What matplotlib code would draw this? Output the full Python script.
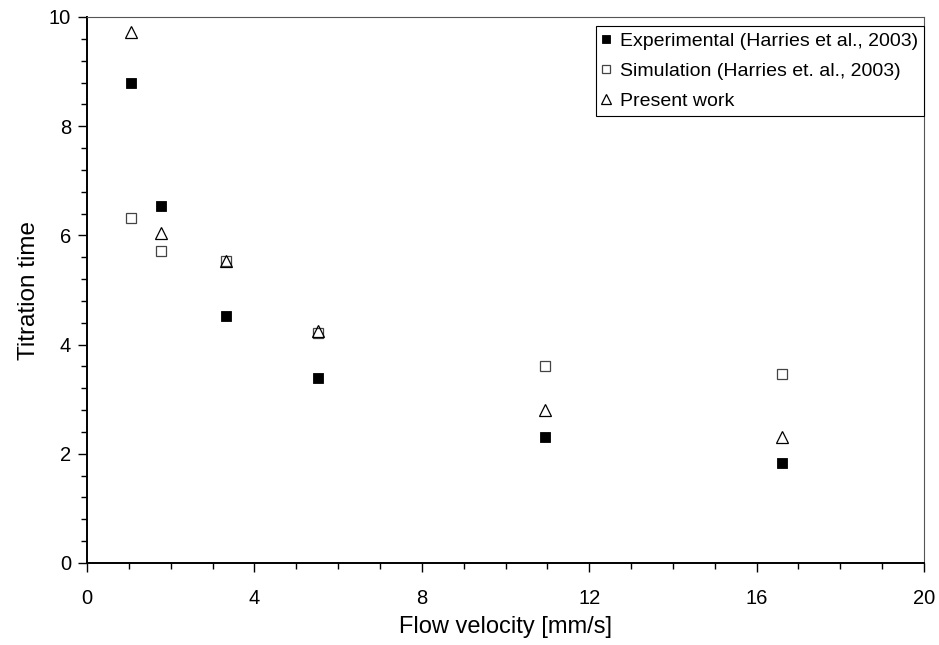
import numpy as np
import matplotlib.pyplot as plt
from matplotlib.ticker import MultipleLocator

plt.rcParams['font.family'] = ['Liberation Sans', 'DejaVu Sans']

# flow velocity [mm/s]
velocity = [1.05, 1.76, 3.33, 5.53, 10.95, 16.6]

# titration times
experimental = [8.79, 6.54, 4.53, 3.39, 2.30, 1.83]
simulation = [6.32, 5.72, 5.53, 4.22, 3.61, 3.46]
present_work = [9.73, 6.04, 5.53, 4.24, 2.80, 2.30]

labels = ["Experimental (Harries et al., 2003)",
          "Simulation (Harries et. al., 2003)",
          "Present work"]

fig = plt.figure(figsize=(9.39, 6.45), dpi=100)
ax = fig.add_axes([87 / 939, 1 - 563 / 645, (924 - 87) / 939, (563 - 17) / 645])

ax.plot(velocity, experimental, ls='none', marker='s', ms=7.3,
        mfc='black', mec='black', mew=0.6, label=labels[0], zorder=3)
ax.plot(velocity, simulation, ls='none', marker='s', ms=7.3,
        mfc='white', mec='#444444', mew=0.9, label=labels[1], zorder=3)
ax.plot(velocity, present_work, ls='none', marker='^', ms=8.2,
        mfc='none', mec='black', mew=0.9, label=labels[2], zorder=4)

ax.set_xlim(0, 20)
ax.set_ylim(0, 10)
ax.xaxis.set_major_locator(MultipleLocator(4))
ax.xaxis.set_minor_locator(MultipleLocator(1))
ax.yaxis.set_major_locator(MultipleLocator(2))
ax.yaxis.set_minor_locator(MultipleLocator(0.4))
ax.tick_params(which='major', direction='out', length=6.5, width=1, labelsize=14.5)
ax.tick_params(which='minor', direction='out', length=4, width=1)
ax.tick_params(axis='x', which='major', pad=12)
ax.tick_params(axis='y', which='major', pad=5)

for side in ['left', 'bottom']:
    ax.spines[side].set_linewidth(1.4)
for side in ['top', 'right']:
    ax.spines[side].set_linewidth(0.8)
    ax.spines[side].set_color('#555555')

ax.set_xlabel("Flow velocity [mm/s]", fontsize=17, labelpad=6)
ax.set_ylabel("Titration time", fontsize=17.5, labelpad=6)

leg = ax.legend(loc='upper right', bbox_to_anchor=(1.0, 0.983), fontsize=14,
                frameon=True, fancybox=False, framealpha=1, edgecolor='black',
                markerscale=0.85, handlelength=0.5, handletextpad=0.45,
                labelspacing=0.65, borderpad=0.3, borderaxespad=0)
leg.get_frame().set_linewidth(0.8)

fig.savefig("out.png", dpi=100)
